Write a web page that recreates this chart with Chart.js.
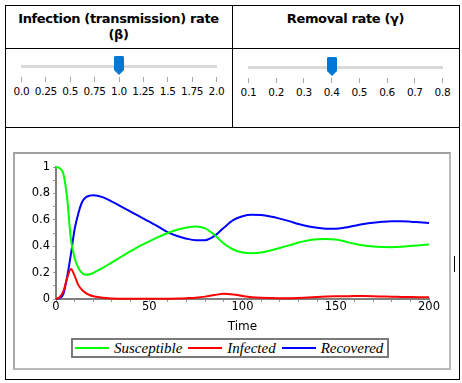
<!DOCTYPE html>
<html>
<head>
<meta charset="utf-8">
<script src="https://cdn.jsdelivr.net/npm/chart.js@4/dist/chart.umd.min.js"></script>
<style>
  html, body { margin:0; padding:0; background:#fff; }
  body { width:462px; height:383px; position:relative; overflow:hidden; }
  .ln { position:absolute; background:#000; }
  .title { position:absolute; top:11px; text-align:center; font-family:"DejaVu Sans", sans-serif; font-weight:bold; font-size:13px; line-height:16px; letter-spacing:-0.35px; color:#000; }
  .track { position:absolute; height:3px; background:#d9d9d9; }
  .thumb { position:absolute; width:10px; height:19px; background:#0078d7; clip-path:polygon(1px 0, 9px 0, 10px 1px, 10px 14px, 5px 19px, 0 14px, 0 1px); }
  .tick { position:absolute; width:1px; height:5px; background:#a8a8a8; }
  .tlab { position:absolute; width:40px; text-align:center; font-family:"DejaVu Sans", sans-serif; font-size:10.5px; line-height:12px; letter-spacing:-0.3px; color:#000; }
  #panel { position:absolute; left:13px; top:152px; width:434px; height:214px; border:2px solid #b8b8b8; border-top-color:#a0a0a0; border-left-color:#a8a8a8; background:#fff; }
  #chart { position:absolute; left:0; top:0; z-index:1; }
  #legend { position:absolute; left:71px; top:338px; width:312px; height:16px; border:2px solid #7a7a7a; background:#fff; z-index:2; display:flex; align-items:center; padding-left:2px; box-sizing:content-box; }
  .litem { display:flex; align-items:center; }
  .lline { width:34px; height:2px; margin-right:5px; }
  .ltext { font-family:"Liberation Serif", serif; font-style:italic; font-size:15px; line-height:16px; margin-right:6px; color:#000; }
</style>
</head>
<body>
<div id="panel"></div>
<!-- table borders -->
<div class="ln" style="left:5px;top:5px;width:455px;height:1px"></div>
<div class="ln" style="left:5px;top:379px;width:455px;height:1px"></div>
<div class="ln" style="left:5px;top:5px;width:1px;height:375px"></div>
<div class="ln" style="left:459px;top:5px;width:1px;height:375px"></div>
<div class="ln" style="left:5px;top:48px;width:455px;height:1px"></div>
<div class="ln" style="left:5px;top:127px;width:455px;height:1px"></div>
<div class="ln" style="left:232px;top:5px;width:1px;height:122px"></div>
<div class="ln" style="left:454px;top:256px;width:1px;height:16px"></div>

<div class="title" style="left:5px;width:227px">Infection (transmission) rate<br>(β)</div>
<div class="title" style="left:232px;width:227px">Removal rate (γ)</div>

<div id="sliders"></div>
<canvas id="chart" width="462" height="383"></canvas>
<div id="legend"></div>

<script>
// ---- slider data ----
const betaTickLabels = ['0.0','0.25','0.5','0.75','1.0','1.25','1.5','1.75','2.0'];
const betaValue = 1.0;
const gammaTickLabels = ['0.1','0.2','0.3','0.4','0.5','0.6','0.7','0.8'];
const gammaValue = 0.4;

// ---- chart data ----
const time = [0,2,4,6,8,10,12,14,16,18,20,25,30,35,40,45,50,55,60,65,70,75,80,85,90,95,100,105,110,115,120,125,130,135,140,145,150,155,160,165,170,175,180,185,190,195,200];
const susceptible = [1.0,0.99,0.945,0.76,0.45,0.31,0.235,0.197,0.183,0.187,0.198,0.235,0.278,0.32,0.362,0.402,0.437,0.47,0.5,0.524,0.542,0.55,0.535,0.485,0.42,0.375,0.352,0.346,0.352,0.368,0.386,0.406,0.428,0.444,0.452,0.455,0.45,0.436,0.418,0.405,0.397,0.393,0.392,0.395,0.401,0.407,0.412];
const infected = [0.0,0.015,0.06,0.16,0.228,0.175,0.105,0.068,0.045,0.03,0.021,0.009,0.004,0.002,0.001,0.001,0.001,0.001,0.002,0.003,0.006,0.01,0.018,0.03,0.039,0.034,0.023,0.014,0.009,0.007,0.006,0.006,0.008,0.011,0.015,0.018,0.02,0.021,0.022,0.022,0.021,0.019,0.017,0.016,0.015,0.014,0.013];
const recovered = [0.0,0.008,0.04,0.17,0.34,0.53,0.65,0.735,0.77,0.783,0.786,0.772,0.738,0.7,0.662,0.624,0.586,0.546,0.505,0.477,0.457,0.446,0.446,0.478,0.54,0.597,0.627,0.638,0.636,0.625,0.609,0.59,0.568,0.551,0.54,0.533,0.533,0.541,0.555,0.568,0.578,0.585,0.589,0.589,0.586,0.581,0.576];
const seriesNames = ['Susceptible','Infected','Recovered'];
const seriesColors = ['#00ff00','#ff0000','#0000ff'];
const xTickLabels = ['0','50','100','150','200'];
const yTickLabels = ['0','0.2','0.4','0.6','0.8','1'];
const xTitle = 'Time';

// ---- sliders (HTML widgets) ----
function buildSlider(labels, value, x1, x2, dy) {
  const host = document.getElementById('sliders');
  const mn = parseFloat(labels[0]), mx = parseFloat(labels[labels.length-1]);
  let h = '';
  h += `<div class="track" style="left:${x1}px;top:${65+dy}px;width:${x2-x1+1}px"></div>`;
  labels.forEach((lab, i) => {
    const x = x1 + i*(x2-x1)/(labels.length-1);
    h += `<div class="tick" style="left:${Math.round(x)}px;top:${77+dy}px"></div>`;
    h += `<div class="tlab" style="left:${x-19.5}px;top:${85.4+dy}px">${lab}</div>`;
  });
  const tx = x1 + (value-mn)/(mx-mn)*(x2-x1);
  h += `<div class="thumb" style="left:${Math.round(tx-4.5)}px;top:${56+dy}px"></div>`;
  host.insertAdjacentHTML('beforeend', h);
}
buildSlider(betaTickLabels, betaValue, 21, 216, 0);
buildSlider(gammaTickLabels, gammaValue, 248, 442, 1);

// ---- legend ----
const leg = document.getElementById('legend');
seriesNames.forEach((n, k) => {
  leg.insertAdjacentHTML('beforeend', `<div class="litem"><div class="lline" style="background:${seriesColors[k]}"></div><div class="ltext">${n}</div></div>`);
});

// ---- chart ----
const seriesValues = [susceptible, infected, recovered];
const axisFont = {family:'DejaVu Sans', size:11.5, lineHeight:1.2};
new Chart(document.getElementById('chart').getContext('2d'), {
  type: 'line',
  data: {
    datasets: seriesNames.map((name, k) => ({
      label: name,
      data: time.map((t, i) => ({x: t, y: seriesValues[k][i]})),
      borderColor: seriesColors[k],
      backgroundColor: seriesColors[k],
      borderWidth: 2,
      pointRadius: 0,
      fill: false,
      cubicInterpolationMode: 'monotone',
      clip: 4
    }))
  },
  options: {
    responsive: false,
    animation: false,
    devicePixelRatio: 1,
    layout: {padding: {left: 0, top: 167, right: 33, bottom: 44}},
    plugins: {legend: {display: false}, tooltip: {enabled: false}},
    scales: {
      x: {
        type: 'linear', min: 0, max: 200,
        afterFit(s) { s.height = 40; },
        ticks: {
          stepSize: 10, autoSkip: false, maxRotation: 0, color: '#000', font: axisFont, padding: -2,
          callback: v => (v % 50 === 0 ? xTickLabels[v/50] : '')
        },
        grid: {display: true, drawOnChartArea: false, drawTicks: true, tickLength: 3, color: '#9a9a9a'},
        border: {display: true, color: '#808080', width: 2},
        title: {display: true, text: xTitle, color: '#000', font: {family:'DejaVu Sans', size:12, lineHeight:1.2}, padding: {top: 0, bottom: 5}}
      },
      y: {
        type: 'linear', min: 0, max: 1,
        afterFit(s) { s.width = 56; },
        ticks: {
          stepSize: 0.1, autoSkip: false, color: '#000', font: axisFont, padding: 3,
          callback: v => { const k = Math.round(v*10); return k % 2 === 0 ? yTickLabels[k/2] : ''; }
        },
        grid: {display: true, drawOnChartArea: false, drawTicks: true, tickLength: 3, color: '#9a9a9a'},
        border: {display: true, color: '#808080', width: 2}
      }
    }
  }
});
</script>
</body>
</html>
